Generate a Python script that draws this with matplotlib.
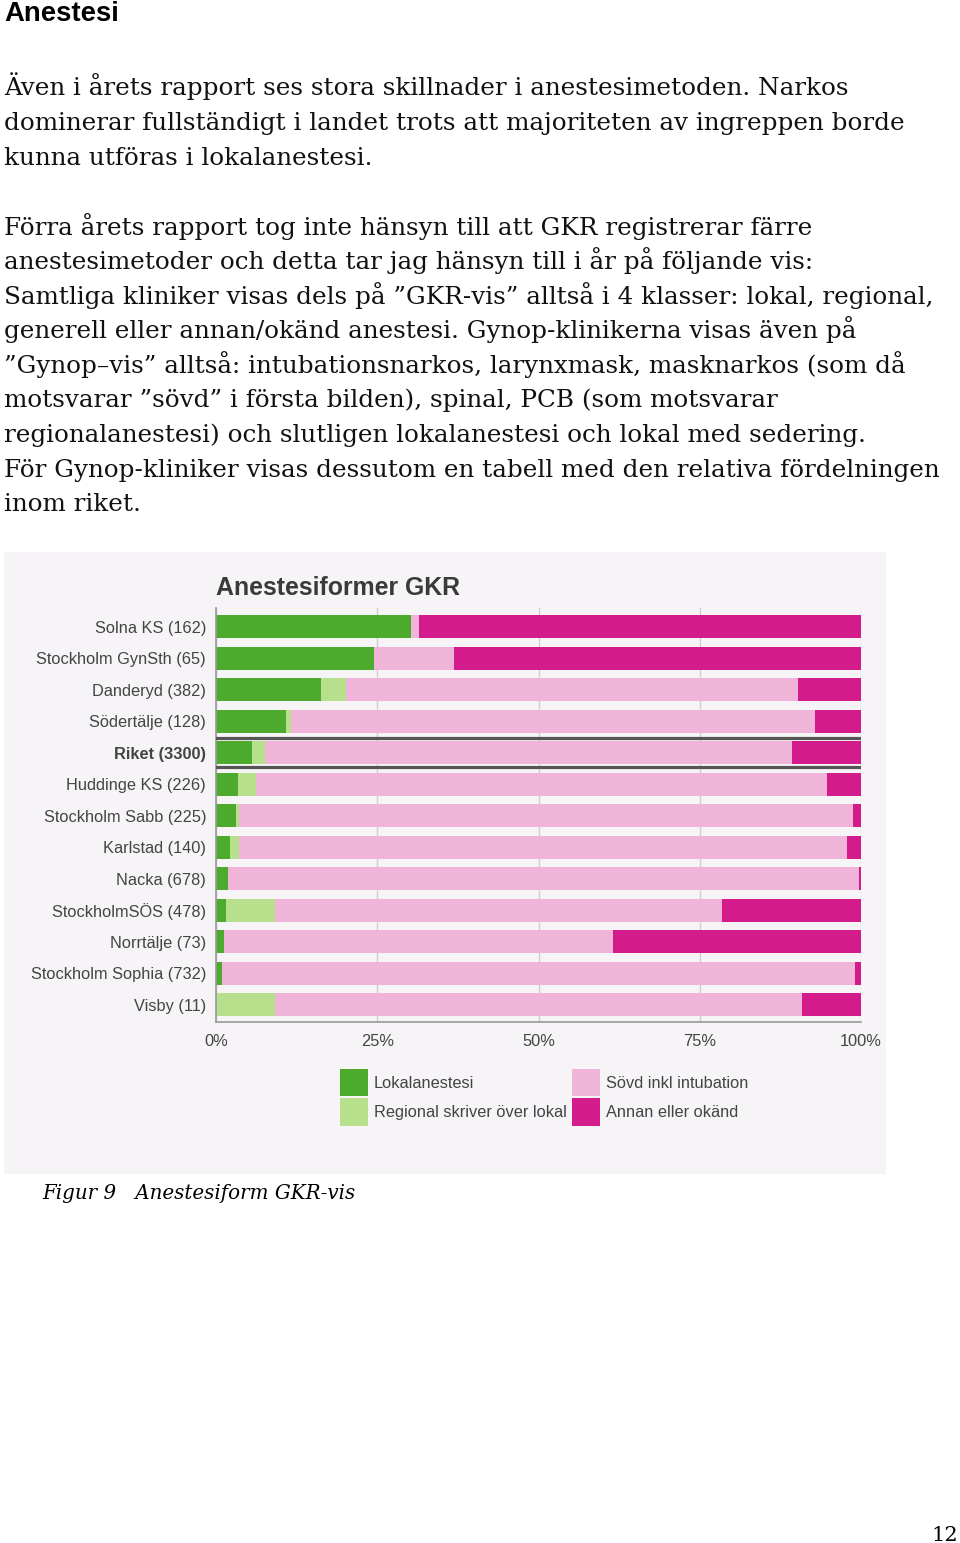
import matplotlib
matplotlib.use("Agg")
import matplotlib.pyplot as plt
from matplotlib.patches import Rectangle, Patch

# data (percent of each clinic)
kliniker = ["Solna KS (162)", "Stockholm GynSth (65)", "Danderyd (382)", "Södertälje (128)",
            "Riket (3300)", "Huddinge KS (226)", "Stockholm Sabb (225)", "Karlstad (140)",
            "Nacka (678)", "StockholmSÖS (478)", "Norrtälje (73)", "Stockholm Sophia (732)",
            "Visby (11)"]
lokal = [30.2, 24.5, 16.3, 10.9, 5.6, 3.4, 3.1, 2.1, 1.9, 1.6, 1.3, 0.9, 0.0]
regional = [0.0, 0.0, 3.9, 0.7, 2.0, 2.8, 0.4, 1.5, 0.0, 7.5, 0.0, 0.0, 9.1]
sovd = [1.2, 12.4, 70.1, 81.3, 81.7, 88.5, 95.2, 94.3, 97.8, 69.3, 60.3, 98.1, 81.8]
annan = [68.6, 63.1, 9.7, 7.1, 10.7, 5.3, 1.3, 2.1, 0.3, 21.6, 38.4, 1.0, 9.1]
serier = ["Lokalanestesi", "Regional skriver över lokal", "Sövd inkl intubation", "Annan eller okänd"]
farger = ["#4cab2c", "#b6e08c", "#f1b4d9", "#d41b8b"]
xticks = [0, 25, 50, 75, 100]
xticklabels = ["0%", "25%", "50%", "75%", "100%"]

rubrik = "Anestesi"
stycke1 = ["Även i årets rapport ses stora skillnader i anestesimetoden. Narkos",
           "dominerar fullständigt i landet trots att majoriteten av ingreppen borde",
           "kunna utföras i lokalanestesi."]
stycke2 = ["Förra årets rapport tog inte hänsyn till att GKR registrerar färre",
           "anestesimetoder och detta tar jag hänsyn till i år på följande vis:",
           "Samtliga kliniker visas dels på ”GKR-vis” alltså i 4 klasser: lokal, regional,",
           "generell eller annan/okänd anestesi. Gynop-klinikerna visas även på",
           "”Gynop–vis” alltså: intubationsnarkos, larynxmask, masknarkos (som då",
           "motsvarar ”sövd” i första bilden), spinal, PCB (som motsvarar",
           "regionalanestesi) och slutligen lokalanestesi och lokal med sedering.",
           "För Gynop-kliniker visas dessutom en tabell med den relativa fördelningen",
           "inom riket."]
figurtext = "Figur 9   Anestesiform GKR-vis"

W, H = 960, 1543
fig = plt.figure(figsize=(W / 100, H / 100), dpi=100)
fig.patch.set_facecolor("white")

def fy(y):
    return 1 - y / H

# page text
fig.text(4 / W, fy(21), rubrik, family="Liberation Sans", weight="bold", fontsize=19.8, va="baseline")
for i, rad in enumerate(stycke1):
    fig.text(4 / W, fy(95.5 + i * 34.6), rad, family="DejaVu Serif", fontsize=17.7, va="baseline", color="#111111")
for i, rad in enumerate(stycke2):
    fig.text(4 / W, fy(234.5 + i * 34.6), rad, family="DejaVu Serif", fontsize=17.7, va="baseline", color="#111111")

# chart panel
fig.patches.append(Rectangle((4 / W, fy(1174)), 882 / W, 622 / H, transform=fig.transFigure,
                             facecolor="#f7f4f8", edgecolor="none", zorder=-1))

ax = fig.add_axes([216 / W, fy(1022), 645 / W, 414 / H])
ax.set_zorder(2)
ax.set_facecolor("none")
y = list(range(len(kliniker)))
vanster = [0.0] * len(kliniker)
for serie, varden, farg in zip(serier, [lokal, regional, sovd, annan], farger):
    ax.barh(y, varden, left=vanster, height=0.73, color=farg, label=serie, zorder=2)
    vanster = [a + b for a, b in zip(vanster, varden)]

riket = kliniker.index("Riket (3300)")
for d in (-0.46, 0.46):
    ax.axhline(riket + d, color="#555555", lw=2.3, zorder=3)

ax.set_xlim(0, 100)
ax.set_ylim(12.54, -0.6)
ax.set_xticks(xticks)
ax.set_xticklabels(xticklabels)
ax.set_yticks(y)
ax.set_yticklabels(kliniker)
ax.tick_params(length=0, labelsize=11.8, colors="#444444", pad=7.2, labelfontfamily="Liberation Sans")
ax.tick_params(axis="x", pad=8.5)
ax.get_yticklabels()[riket].set_fontweight("bold")
ax.grid(axis="x", color="#cfcfcf", lw=1, zorder=1)
ax.set_axisbelow(True)
for s in ("top", "right"):
    ax.spines[s].set_visible(False)
for s in ("left", "bottom"):
    ax.spines[s].set_color("#999999")
    ax.spines[s].set_linewidth(1.2)

fig.text(216 / W, fy(588), "Anestesiformer GKR", family="Liberation Sans", weight="bold",
         fontsize=17.9, color="#3a3a3a", va="center")

handles = [Patch(facecolor=f, edgecolor="none") for f in farger]
fig.legend(handles, serier, loc="upper left", bbox_to_anchor=(340 / W, fy(1069)), ncol=2,
           frameon=False, prop={"family": "Liberation Sans", "size": 11.8}, labelcolor="#444444",
           handlelength=1.7, handleheight=2.2, labelspacing=0.12, handletextpad=0.35,
           columnspacing=0.35, borderpad=0, borderaxespad=0)

fig.text(42 / W, fy(1199), figurtext, family="DejaVu Serif", style="italic", fontsize=14.3, va="baseline")
fig.text(958 / W, fy(1541), "12", family="DejaVu Serif", fontsize=15, ha="right", va="baseline")

fig.savefig("out.png", dpi=100)
